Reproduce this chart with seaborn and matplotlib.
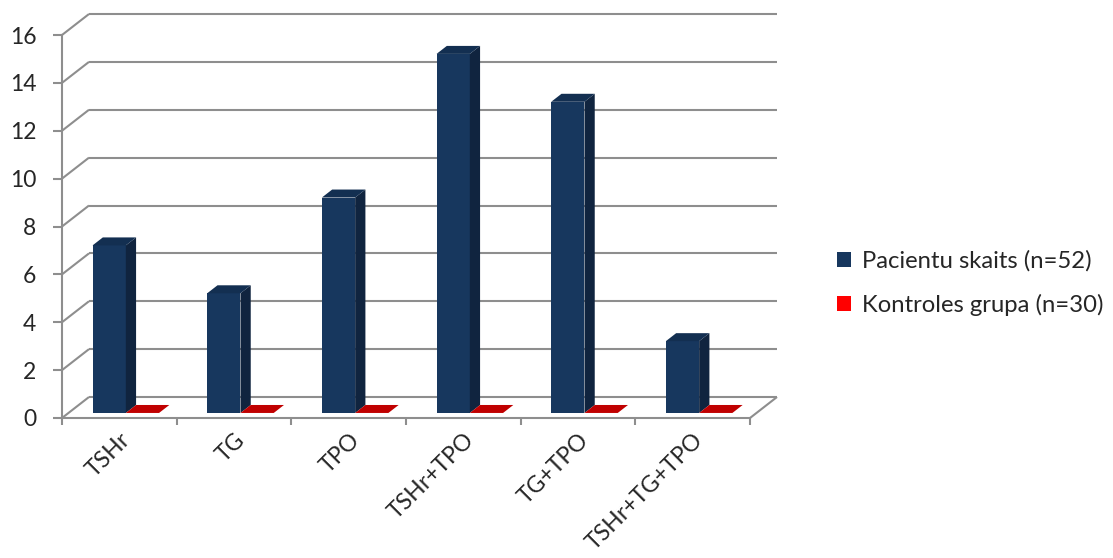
import matplotlib
matplotlib.use("Agg")
import matplotlib.pyplot as plt
from matplotlib.transforms import IdentityTransform, ScaledTranslation
from matplotlib.patches import Polygon, Patch
from matplotlib.lines import Line2D
import seaborn as sns
import pandas as pd

# ---- data -------------------------------------------------------------
categories = ["TSHr", "TG", "TPO", "TSHr+TPO", "TG+TPO", "TSHr+TG+TPO"]
patients = [7, 5, 9, 15, 13, 3]
controls = [0, 0, 0, 0, 0, 0]
series_names = ["Pacientu skaits (n=52)", "Kontroles grupa (n=30)"]
y_ticks = [0, 2, 4, 6, 8, 10, 12, 14, 16]

df = pd.DataFrame({
    "kategorija": categories * 2,
    "skaits": patients + controls,
    "grupa": [series_names[0]] * len(categories) + [series_names[1]] * len(categories),
})

# ---- style --------------------------------------------------------------
sns.set_style("white")
plt.rcParams["font.family"] = ["Lato", "DejaVu Sans"]

BLUE_FRONT = "#17375E"
BLUE_SIDE = "#10243F"
BLUE_TOP = "#132F51"
RED_FRONT = "#C00000"
RED_SIDE = "#900000"
RED_TOP = "#C00000"
RED_LEGEND = "#FF0000"
GRID = "#8E8E8E"
FS_Y = 16.5
FS_X = 16.6
FS_LEG = 17.2

W, H, DPI = 1113, 558, 100
fig = plt.figure(figsize=(W / DPI, H / DPI), dpi=DPI)
fig.patch.set_facecolor("white")
ax = fig.add_axes([62 / W, (H - 418) / H, 688 / W, 383 / H])

sns.barplot(data=df, x="kategorija", y="skaits", hue="grupa",
            palette=[BLUE_FRONT, RED_FRONT], width=0.58, saturation=1,
            errorbar=None, legend=False, ax=ax, zorder=5)

ax.set_xlim(-0.5, len(categories) - 0.5)
ax.set_ylim(0, 16)
ax.set_xlabel("")
ax.set_ylabel("")
for s in ["top", "right"]:
    ax.spines[s].set_visible(False)
for s in ["left", "bottom"]:
    ax.spines[s].set_color(GRID)
    ax.spines[s].set_linewidth(1.5)
ax.patch.set_alpha(0)

# depth of the 3-D box (pixels) and the slab the bars occupy within it
DEPTH = (27, 21)
F0, F1 = 0.24, 0.62


def disp(x, y, frac=0.0):
    px, py = ax.transData.transform((x, y))
    return (px + DEPTH[0] * frac, py + DEPTH[1] * frac)


def line(p, q, **kw):
    fig.add_artist(Line2D([p[0], q[0]], [p[1], q[1]], transform=IdentityTransform(),
                          color=GRID, lw=1.5, solid_capstyle="butt", **kw))


x0, x1 = ax.get_xlim()
for v in y_ticks:
    # back-wall gridline and the diagonal that joins it to the value axis
    line(disp(x0, v, 1), disp(x1, v, 1), zorder=0)
    line(disp(x0, v, 0), disp(x0, v, 1), zorder=0)
# right edge of the floor
line(disp(x1, 0, 0), disp(x1, 0, 1), zorder=0)

# ---- bars: shift front faces into depth and add side/top faces --------
shift = ScaledTranslation(DEPTH[0] * F0 / DPI, DEPTH[1] * F0 / DPI, fig.dpi_scale_trans)
n = len(categories)
for i, bar in enumerate(ax.patches):
    is_blue = i < n
    bx, bw, bh = bar.get_x(), bar.get_width(), bar.get_height()
    bar.set_transform(ax.transData + shift)
    bar.set_edgecolor("none")
    side = [disp(bx + bw, 0, F0), disp(bx + bw, bh, F0), disp(bx + bw, bh, F1), disp(bx + bw, 0, F1)]
    top = [disp(bx, bh, F0), disp(bx + bw, bh, F0), disp(bx + bw, bh, F1), disp(bx, bh, F1)]
    if bh > 0:
        fig.add_artist(Polygon(side, closed=True, transform=IdentityTransform(),
                               facecolor=BLUE_SIDE if is_blue else RED_SIDE, edgecolor="none", zorder=6))
    fig.add_artist(Polygon(top, closed=True, transform=IdentityTransform(),
                           facecolor=BLUE_TOP if is_blue else RED_TOP, edgecolor="none", zorder=6))

# ---- axes ticks and labels ---------------------------------------------
ax.set_yticks(y_ticks)
ax.set_yticklabels([str(v) for v in y_ticks], fontsize=FS_Y)
ax.tick_params(axis="y", length=6.5, width=1.5, color=GRID, pad=12, left=True)

ax.set_xticks(range(n))
ax.set_xticks([k - 0.5 for k in range(n + 1)], minor=True)
ax.tick_params(axis="x", which="major", length=0, pad=8)
ax.tick_params(axis="x", which="minor", length=5, width=1.5, color=GRID, bottom=True)
ax.set_xticklabels(categories, rotation=45, ha="right", va="top",
                   rotation_mode="anchor", fontsize=FS_X)

# ---- legend -----------------------------------------------------------
handles = [Patch(facecolor=BLUE_FRONT, edgecolor="none"),
           Patch(facecolor=RED_LEGEND, edgecolor="none")]
fig.legend(handles, series_names, loc="center left", bbox_to_anchor=(837 / W, 1 - 283 / H),
           frameon=False, fontsize=FS_LEG, handlelength=0.58, handleheight=0.58,
           handletextpad=0.45, labelspacing=0.9, borderpad=0, borderaxespad=0)

fig.savefig("out.png", dpi=DPI, facecolor="white")
